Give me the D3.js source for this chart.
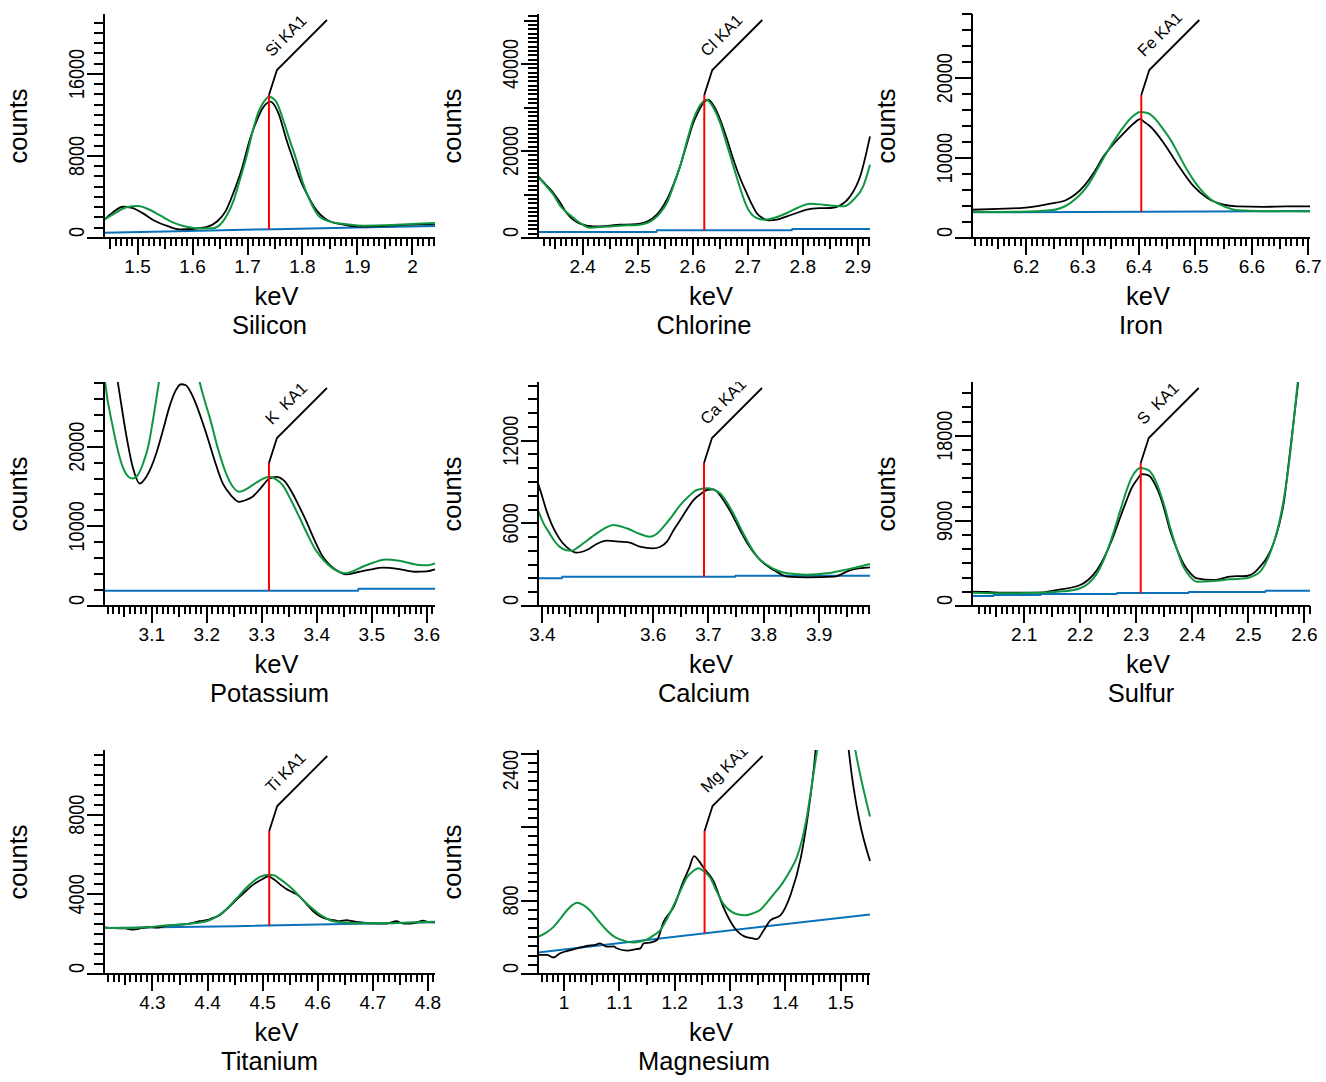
<!DOCTYPE html>
<meta charset="utf-8">
<script src="https://d3js.org/d3.v7.min.js"></script>
<style>
  body { margin: 0; background: #fff; }
  text { font-family: Arial, "Liberation Sans", sans-serif; fill: #000; }
</style>
<svg id="chart" width="1326" height="1082"></svg>

<script>

  // panel names and the fitted emission line of each panel
  var elements = ["Silicon", "Chlorine", "Iron", "Potassium", "Calcium", "Sulfur", "Titanium", "Magnesium"];
  var lineNames = ["Si KA1", "Cl KA1", "Fe KA1", "K  KA1", "Ca KA1", "S  KA1", "Ti KA1", "Mg KA1"];
  var lineEnergy = [1.739, 2.621, 6.404, 3.313, 3.692, 2.308, 4.512, 1.254];

  // axis ranges and tick labels
  var keVRange = [[1.439, 2.041], [2.319, 2.922], [6.104, 6.703], [3.013, 3.615],
                  [3.392, 3.992], [2.007, 2.610], [4.212, 4.813], [0.953, 1.553]];
  var countsMax = [21850, 51500, 28050, 28120, 16260, 23680, 11250, 2440];
  var keVLabels = [
    [1.5, 1.6, 1.7, 1.8, 1.9, 2.0],
    [2.4, 2.5, 2.6, 2.7, 2.8, 2.9],
    [6.2, 6.3, 6.4, 6.5, 6.6, 6.7],
    [3.1, 3.2, 3.3, 3.4, 3.5, 3.6],
    [3.4, 3.6, 3.7, 3.8, 3.9],
    [2.1, 2.2, 2.3, 2.4, 2.5, 2.6],
    [4.3, 4.4, 4.5, 4.6, 4.7, 4.8],
    [1.0, 1.1, 1.2, 1.3, 1.4, 1.5]
  ];
  var countsLabels = [[0, 8000, 16000], [0, 20000, 40000], [0, 10000, 20000], [0, 10000, 20000],
                      [0, 6000, 12000], [0, 9000, 18000], [0, 4000, 8000], [0, 800, 2400]];
  var countsMajor = [8000, 20000, 10000, 10000, 6000, 9000, 4000, 800];
  var countsMid = [0, 10000, 0, 0, 0, 0, 0, 0];
  var countsMinor = [1000, 1000, 2000, 2000, 1000, 1500, 500, 100];

  // spectra: [keV, counts]
  var siliconData = [[1.439,1760],[1.455,2500],[1.474,3050],[1.49,2950],[1.51,2400],[1.53,1700],[1.555,1150],[1.577,850],[1.6,880],[1.625,1050],[1.644,1590],[1.66,2600],[1.674,4360],[1.69,6800],[1.704,9560],[1.718,11600],[1.728,12700],[1.742,13300],[1.756,12200],[1.771,9560],[1.784,7500],[1.796,5660],[1.81,4100],[1.821,3050],[1.845,1760],[1.87,1350],[1.906,1100],[1.94,1150],[1.977,1270],[2.01,1320],[2.041,1370]];
  var siliconFit = [[1.439,1760],[1.46,2450],[1.48,3000],[1.501,3120],[1.52,2800],[1.541,2200],[1.565,1500],[1.589,1100],[1.615,930],[1.637,946],[1.65,1300],[1.661,2080],[1.675,3700],[1.686,5660],[1.698,7900],[1.71,10540],[1.72,12300],[1.728,13140],[1.739,13780],[1.752,13300],[1.765,11510],[1.777,9500],[1.789,7610],[1.8,5500],[1.813,3710],[1.831,2080],[1.85,1600],[1.88,1350],[1.91,1200],[1.95,1250],[2.0,1370],[2.041,1460]];
  var siliconBkg = [[1.439,520],[1.55,640],[1.75,860],[1.9,1030],[2.041,1170]];

  var chlorineData = [[2.319,14170],[2.333,12300],[2.347,10340],[2.36,8000],[2.371,5745],[2.385,4000],[2.395,3290],[2.419,2680],[2.44,2750],[2.468,3060],[2.49,3100],[2.504,3290],[2.517,3800],[2.528,4600],[2.541,6300],[2.553,8800],[2.565,12300],[2.577,16470],[2.589,21500],[2.601,26430],[2.61,29000],[2.619,31020],[2.628,31790],[2.64,30000],[2.65,27190],[2.662,22800],[2.674,18000],[2.686,13800],[2.698,10340],[2.708,7600],[2.716,5745],[2.728,4500],[2.738,4060],[2.755,4300],[2.771,4980],[2.79,5800],[2.807,6510],[2.83,6850],[2.85,6900],[2.868,7500],[2.886,9575],[2.905,14500],[2.922,23360]];
  var chlorineFit = [[2.319,14170],[2.333,12100],[2.347,9960],[2.36,7300],[2.38,4980],[2.395,3500],[2.413,2375],[2.44,2600],[2.468,2834],[2.504,3064],[2.528,4210],[2.541,5800],[2.553,8040],[2.565,12000],[2.577,16470],[2.589,22000],[2.601,27190],[2.61,29800],[2.619,31400],[2.625,31790],[2.635,30500],[2.65,26430],[2.662,21500],[2.674,16470],[2.686,11500],[2.698,7280],[2.716,4600],[2.731,4210],[2.75,4700],[2.771,5745],[2.79,6900],[2.813,7890],[2.838,7660],[2.858,7400],[2.874,7280],[2.892,8810],[2.91,12000],[2.922,16850]];
  var chlorineBkg = [[2.319,1380],[2.534,1380],[2.535,1760],[2.78,1760],[2.781,2070],[2.922,2070]];

  var ironData = [[6.104,3540],[6.15,3650],[6.189,3750],[6.22,4000],[6.243,4290],[6.272,4790],[6.302,6460],[6.32,8200],[6.337,10210],[6.355,11800],[6.373,13125],[6.39,14300],[6.402,14875],[6.41,14500],[6.42,13960],[6.444,11875],[6.467,9375],[6.497,6460],[6.521,5000],[6.55,4170],[6.574,3960],[6.62,3900],[6.66,3950],[6.703,3960]];
  var ironFit = [[6.104,3250],[6.189,3290],[6.243,3460],[6.278,4375],[6.308,6460],[6.337,10000],[6.355,12100],[6.373,13960],[6.39,15300],[6.402,15790],[6.415,15650],[6.426,15125],[6.44,13900],[6.456,12290],[6.47,10500],[6.485,8540],[6.5,6900],[6.515,5625],[6.53,4700],[6.544,4170],[6.574,3460],[6.62,3350],[6.703,3330]];
  var ironBkg = [[6.104,3210],[6.703,3375]];

  var potassiumData = [[3.013,39000],[3.025,33500],[3.038,28130],[3.053,21650],[3.065,17500],[3.078,15380],[3.09,16220],[3.108,19140],[3.12,22000],[3.132,25000],[3.143,27000],[3.153,27840],[3.162,27710],[3.171,26800],[3.18,25410],[3.199,21650],[3.214,18300],[3.229,15380],[3.244,13900],[3.259,13080],[3.271,13300],[3.283,13710],[3.298,14800],[3.314,16010],[3.326,16220],[3.341,15700],[3.356,14130],[3.368,12500],[3.38,10780],[3.395,8400],[3.411,6190],[3.423,5200],[3.435,4515],[3.453,3970],[3.477,4300],[3.5,4600],[3.519,4810],[3.55,4640],[3.58,4300],[3.6,4350],[3.615,4600]];
  var potassiumFit = [[3.013,29500],[3.015,28130],[3.029,22490],[3.047,17470],[3.058,16200],[3.065,16010],[3.075,16500],[3.084,17890],[3.094,20200],[3.102,23320],[3.113,28130],[3.125,33000],[3.15,36500],[3.175,33000],[3.187,28130],[3.196,25800],[3.205,23740],[3.22,19800],[3.235,16640],[3.247,15000],[3.259,14340],[3.27,14600],[3.283,15170],[3.3,15900],[3.314,16220],[3.326,15900],[3.338,15170],[3.353,13300],[3.368,11200],[3.383,9000],[3.398,7020],[3.413,5700],[3.429,4720],[3.453,4100],[3.47,4500],[3.483,4930],[3.505,5500],[3.525,5850],[3.55,5680],[3.586,5140],[3.6,5100],[3.615,5350]];
  var potassiumBkg = [[3.013,1920],[3.475,1920],[3.476,2170],[3.615,2170]];

  var calciumData = [[3.392,8900],[3.4,7900],[3.407,6960],[3.416,6000],[3.425,5270],[3.434,4700],[3.443,4310],[3.462,3870],[3.48,4065],[3.498,4500],[3.516,4740],[3.54,4670],[3.558,4600],[3.576,4310],[3.6,4185],[3.613,4300],[3.625,4670],[3.637,5500],[3.649,6240],[3.661,7000],[3.673,7690],[3.685,8100],[3.697,8420],[3.709,8470],[3.718,8200],[3.727,7690],[3.742,6700],[3.757,5515],[3.772,4450],[3.788,3580],[3.803,3000],[3.818,2610],[3.842,2130],[3.878,2080],[3.927,2130],[3.957,2610],[3.992,2800]];
  var calciumFit = [[3.392,6960],[3.402,6000],[3.413,5270],[3.422,4700],[3.431,4310],[3.443,4050],[3.453,4015],[3.464,4250],[3.474,4550],[3.498,5270],[3.513,5650],[3.528,5880],[3.552,5640],[3.576,5225],[3.594,5030],[3.607,5250],[3.619,5760],[3.634,6500],[3.649,7330],[3.664,7950],[3.679,8420],[3.697,8540],[3.709,8450],[3.721,8180],[3.733,7550],[3.745,6720],[3.76,5500],[3.776,4310],[3.79,3500],[3.806,2975],[3.82,2650],[3.842,2370],[3.878,2270],[3.914,2370],[3.951,2660],[3.992,3050]];
  var calciumBkg = [[3.392,2010],[3.435,2010],[3.436,2130],[3.748,2130],[3.749,2200],[3.992,2200]];

  var sulfurData = [[2.007,1515],[2.035,1480],[2.063,1410],[2.123,1410],[2.158,1690],[2.2,2220],[2.215,2800],[2.23,3810],[2.245,5400],[2.259,7330],[2.271,9300],[2.283,11200],[2.292,12500],[2.301,13320],[2.31,13950],[2.318,13900],[2.325,13670],[2.334,12800],[2.343,11560],[2.352,9800],[2.36,8030],[2.372,6100],[2.384,4510],[2.396,3500],[2.408,2925],[2.438,2750],[2.467,3100],[2.48,3150],[2.497,3170],[2.51,3500],[2.521,4160],[2.533,5100],[2.545,6630],[2.555,8600],[2.563,10850],[2.574,16140],[2.586,22130],[2.597,28000],[2.61,35000]];
  var sulfurFit = [[2.007,1410],[2.063,1340],[2.123,1410],[2.17,1550],[2.2,1870],[2.215,2400],[2.23,3450],[2.245,5300],[2.259,7680],[2.271,10000],[2.283,12260],[2.292,13600],[2.301,14380],[2.307,14590],[2.316,14500],[2.325,14200],[2.334,13300],[2.343,11910],[2.352,10200],[2.36,8390],[2.372,6100],[2.384,4160],[2.396,3100],[2.408,2570],[2.438,2640],[2.467,2820],[2.497,2925],[2.51,3200],[2.521,3630],[2.533,4800],[2.545,6630],[2.555,8800],[2.563,11200],[2.574,15790],[2.586,22480],[2.597,28500],[2.61,35000]];
  var sulfurBkg = [[2.007,1060],[2.045,1060],[2.046,1160],[2.129,1160],[2.13,1270],[2.265,1270],[2.266,1370],[2.393,1370],[2.394,1480],[2.53,1480],[2.531,1620],[2.61,1620]];

  var titaniumData = [[4.212,2345],[4.23,2300],[4.25,2290],[4.265,2230],[4.28,2300],[4.295,2360],[4.31,2330],[4.325,2430],[4.345,2470],[4.362,2510],[4.375,2580],[4.386,2650],[4.398,2700],[4.41,2815],[4.422,2950],[4.434,3230],[4.446,3550],[4.459,3900],[4.471,4200],[4.483,4490],[4.492,4650],[4.5,4775],[4.51,4910],[4.518,4800],[4.525,4660],[4.534,4450],[4.543,4270],[4.555,4100],[4.567,3900],[4.58,3500],[4.592,3150],[4.604,2900],[4.616,2765],[4.63,2700],[4.64,2650],[4.652,2700],[4.664,2650],[4.676,2600],[4.688,2560],[4.7,2540],[4.719,2530],[4.73,2560],[4.743,2650],[4.752,2560],[4.761,2530],[4.775,2560],[4.783,2620],[4.791,2680],[4.8,2620],[4.813,2600]];
  var titaniumFit = [[4.212,2310],[4.265,2310],[4.325,2430],[4.362,2510],[4.38,2560],[4.398,2650],[4.41,2780],[4.422,2980],[4.434,3250],[4.446,3600],[4.458,3950],[4.47,4320],[4.483,4650],[4.495,4875],[4.512,4990],[4.522,4940],[4.531,4775],[4.543,4530],[4.555,4240],[4.567,3900],[4.579,3570],[4.592,3250],[4.604,2980],[4.616,2790],[4.628,2650],[4.646,2590],[4.664,2560],[4.719,2545],[4.779,2600],[4.813,2630]];
  var titaniumBkg = [[4.212,2310],[4.45,2400],[4.813,2600]];

  var magnesiumData = [[0.953,208],[0.969,208],[0.981,180],[0.993,226],[1.005,250],[1.017,269],[1.041,305],[1.058,320],[1.065,334],[1.077,298],[1.09,300],[1.095,280],[1.114,255],[1.13,270],[1.138,280],[1.144,334],[1.158,345],[1.168,370],[1.18,567],[1.198,728],[1.216,1015],[1.226,1150],[1.235,1285],[1.244,1230],[1.252,1160],[1.27,1015],[1.288,728],[1.307,513],[1.325,413],[1.34,390],[1.349,380],[1.361,477],[1.373,585],[1.391,639],[1.41,872],[1.428,1267],[1.44,1697],[1.452,2271],[1.465,3200],[1.485,4500],[1.505,3000],[1.52,2170],[1.533,1697],[1.553,1230]];
  var magnesiumFit = [[0.953,405],[0.968,450],[0.981,513],[0.993,600],[1.005,692],[1.015,750],[1.023,775],[1.035,750],[1.047,692],[1.062,580],[1.077,477],[1.09,410],[1.101,377],[1.126,344],[1.138,355],[1.15,377],[1.162,420],[1.174,477],[1.186,600],[1.198,746],[1.21,900],[1.222,1051],[1.233,1120],[1.243,1152],[1.253,1120],[1.264,1051],[1.276,900],[1.288,764],[1.3,690],[1.313,650],[1.328,639],[1.341,660],[1.355,700],[1.367,780],[1.379,870],[1.395,990],[1.41,1141],[1.42,1260],[1.428,1410],[1.437,1650],[1.446,1984],[1.457,2422],[1.49,4000],[1.527,2422],[1.553,1715]];
  var magnesiumBkg = [[0.953,233],[1.553,649]];

  var measured = [siliconData, chlorineData, ironData, potassiumData, calciumData, sulfurData, titaniumData, magnesiumData];
  var fitted = [siliconFit, chlorineFit, ironFit, potassiumFit, calciumFit, sulfurFit, titaniumFit, magnesiumFit];
  var background = [siliconBkg, chlorineBkg, ironBkg, potassiumBkg, calciumBkg, sulfurBkg, titaniumBkg, magnesiumBkg];

  // layout of the 3x3 grid
  var colLeft = [104, 538, 972], colWidth = [331, 332, 338];
  var rowTop = [14, 382, 750], plotH = 224;

  var svg = d3.select("#chart");
  var defs = svg.append("defs");
  var fmt = d3.format("~g");

  // value of the background at a given energy
  function bkgAt(pts, e) {
    for (var k = 1; k < pts.length; k++) {
      if (e <= pts[k][0]) {
        var t = (e - pts[k - 1][0]) / (pts[k][0] - pts[k - 1][0]);
        return pts[k - 1][1] + t * (pts[k][1] - pts[k - 1][1]);
      }
    }
    return pts[pts.length - 1][1];
  }

  function isMult(v, step) {
    if (!step) return false;
    var r = v / step;
    return Math.abs(r - Math.round(r)) < 1e-6;
  }

  elements.forEach(function (name, i) {
    var left = colLeft[i % 3], w = colWidth[i % 3];
    var top = rowTop[Math.floor(i / 3)], bottom = top + plotH;

    var x = d3.scaleLinear().domain(keVRange[i]).range([left, left + w]);
    var y = d3.scaleLinear().domain([0, countsMax[i]]).range([bottom, top]);

    defs.append("clipPath").attr("id", "clip" + i)
      .append("rect").attr("x", left).attr("y", top).attr("width", w + 2).attr("height", plotH);

    var g = svg.append("g");
    var plot = g.append("g").attr("clip-path", "url(#clip" + i + ")");

    var smooth = d3.line().x(function (d) { return x(d[0]); }).y(function (d) { return y(d[1]); })
      .curve(d3.curveMonotoneX);
    var straight = d3.line().x(function (d) { return x(d[0]); }).y(function (d) { return y(d[1]); });

    plot.append("path").datum(background[i]).attr("d", straight)
      .attr("fill", "none").attr("stroke", "#0a72ba").attr("stroke-width", 2);
    plot.append("path").datum(measured[i]).attr("d", smooth)
      .attr("fill", "none").attr("stroke", "#000").attr("stroke-width", 1.8)
      .attr("stroke-linejoin", "round");
    plot.append("path").datum(fitted[i]).attr("d", smooth)
      .attr("fill", "none").attr("stroke", "#0f9640").attr("stroke-width", 2)
      .attr("stroke-linejoin", "round");

    // line marker
    var lx = x(lineEnergy[i]);
    var markTop = top + 81, kink = [lx + 8, top + 56];
    plot.append("line")
      .attr("x1", lx).attr("x2", lx)
      .attr("y1", y(bkgAt(background[i], lineEnergy[i]))).attr("y2", markTop)
      .attr("stroke", "#ff0000").attr("stroke-width", 2);
    plot.append("path")
      .attr("d", d3.line()([[lx, markTop], kink, [kink[0] + 50, kink[1] - 50]]))
      .attr("fill", "none").attr("stroke", "#000").attr("stroke-width", 1.8);
    plot.append("text")
      .attr("transform", "translate(" + (kink[0] - 5) + "," + (kink[1] - 12.5) + ") rotate(-45)")
      .attr("xml:space", "preserve")
      .style("white-space", "pre")
      .style("font-size", "16.5px")
      .text(lineNames[i]);

    // y axis
    g.append("line").attr("x1", left).attr("x2", left).attr("y1", top).attr("y2", bottom)
      .attr("stroke", "#000").attr("stroke-width", 2);
    d3.range(0, countsMax[i] + 1e-9, countsMinor[i]).forEach(function (v) {
      var len = isMult(v, countsMajor[i]) ? 17 : (isMult(v, countsMid[i]) ? 14 : 10);
      var yy = Math.round(y(v));
      g.append("line").attr("x1", left - len).attr("x2", left).attr("y1", yy).attr("y2", yy)
        .attr("stroke", "#000").attr("stroke-width", 2);
    });
    countsLabels[i].forEach(function (v) {
      var t = g.append("text")
        .style("font-size", "22px")
        .attr("text-anchor", "middle")
        .text(fmt(v));
      var half = t.node().getComputedTextLength() * 0.82 / 2;
      var cy = Math.max(top + half, Math.min(bottom - half - 1, y(v)));
      t.attr("transform", "translate(" + (left - 20) + "," + cy + ") rotate(-90) scale(0.82,1)");
    });

    // x axis
    g.append("line").attr("x1", left).attr("x2", left + w).attr("y1", bottom).attr("y2", bottom)
      .attr("stroke", "#000").attr("stroke-width", 2);
    var i0 = Math.ceil(keVRange[i][0] * 100 + 0.3), i1 = Math.floor(keVRange[i][1] * 100);
    d3.range(i0, i1 + 1).forEach(function (k) {
      var len = k % 10 === 0 ? 17 : (k % 5 === 0 ? 11 : 8);
      var xx = Math.round(x(k / 100));
      g.append("line").attr("x1", xx).attr("x2", xx).attr("y1", bottom).attr("y2", bottom + len)
        .attr("stroke", "#000").attr("stroke-width", 2);
    });
    keVLabels[i].forEach(function (v) {
      g.append("text")
        .attr("x", x(v)).attr("y", bottom + 35)
        .attr("text-anchor", "middle")
        .style("font-size", "19px")
        .text(fmt(v));
    });

    // titles
    g.append("text")
      .attr("transform", "translate(" + (left - 77) + "," + (top + plotH / 2) + ") rotate(-90)")
      .attr("text-anchor", "middle")
      .style("font-size", "25.5px")
      .text("counts");
    g.append("text")
      .attr("x", left + w / 2 + 7).attr("y", bottom + 67)
      .attr("text-anchor", "middle")
      .style("font-size", "25.5px")
      .text("keV");
    g.append("text")
      .attr("x", left + w / 2).attr("y", bottom + 95.5)
      .attr("text-anchor", "middle")
      .style("font-size", "25.5px")
      .text(name);
  });

</script>
